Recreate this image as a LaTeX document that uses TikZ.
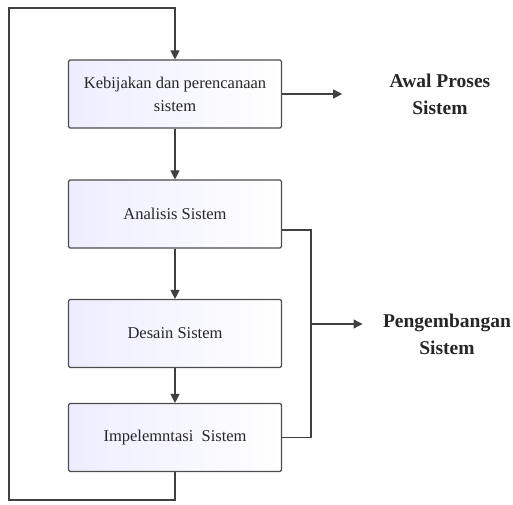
\documentclass[tikz,border=0pt]{standalone}
\usepackage{fontspec}
\setmainfont{Liberation Serif}
\usetikzlibrary{arrows.meta,positioning}

\begin{document}
\begin{tikzpicture}[x=1pt,y=1pt,on grid,>={Triangle[length=9pt,width=9pt]},
        proses/.style={draw=black!70, line width=1.1pt, rounded corners=1.5pt,
            left color=blue!7, right color=white, minimum width=213pt,
            minimum height=68pt, align=center, text=black!85,
            font=\fontsize{16.5}{23}\selectfont},
        ket/.style={align=center, text=black!85, font=\bfseries\fontsize{19.5}{27}\selectfont},
        garis/.style={draw=black!75, line width=1.1pt}]
        \useasboundingbox (0,0) rectangle (513,504);
        \node[proses] (kebijakan) at (175,410) {Kebijakan dan perencanaan\\sistem};
        \node[proses] (analisis) [below=120pt of kebijakan] {Analisis Sistem};
        \node[proses] (desain) [below=119.5pt of analisis] {Desain Sistem};
        \node[proses] (implementasi) [below=104pt of desain] {Impelemntasi\ \ Sistem};
        \node[ket] (awal) at (440,410) {Awal Proses\\Sistem};
        \node[ket] (pengembangan) at (447,170) {Pengembangan\\Sistem};
        \coordinate (kiribawah) at (9,4);
        \coordinate (kiriatas) at (9,496);
        \coordinate (cabang) at (311,180);
        \path[->,every edge/.append style={garis}]
        (kebijakan) edge (analisis)
        (analisis) edge (desain)
        (desain) edge (implementasi)
        (kebijakan.east) edge [shorten >=44pt] (awal.west |- kebijakan.east)
        (cabang) edge [shorten >=17pt] (pengembangan.west |- cabang);
        \draw[garis,->] (implementasi.south) |- (kiribawah) -- (kiriatas) -| (kebijakan.north);
        \draw[garis] ([yshift=-16pt]analisis.east) -| (cabang) |- (implementasi.east);
    \end{tikzpicture}
\end{document}
